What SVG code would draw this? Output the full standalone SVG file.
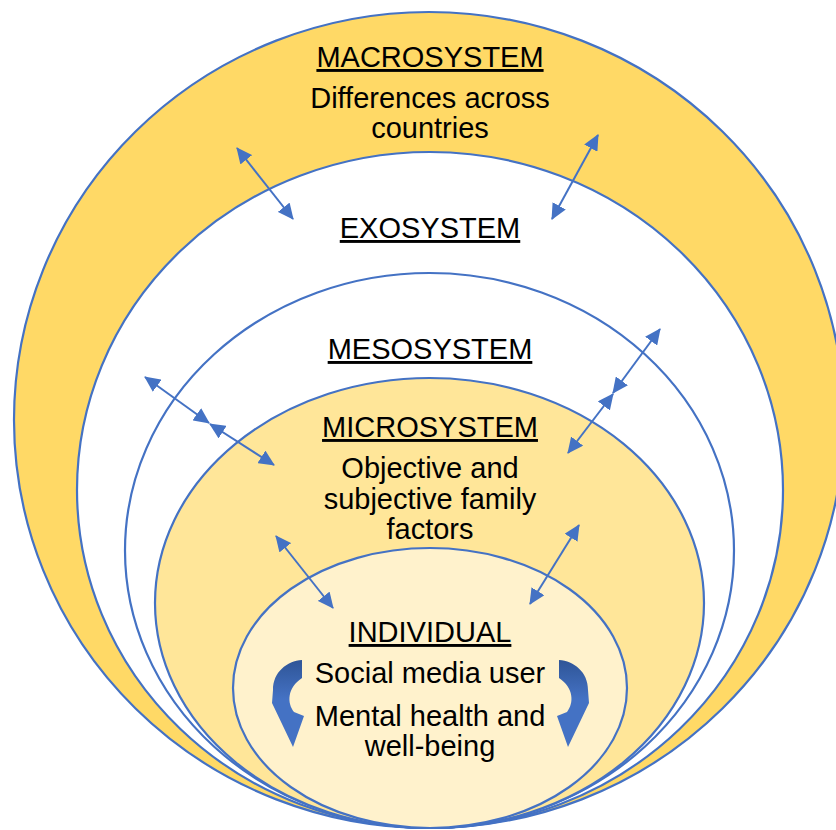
<svg xmlns="http://www.w3.org/2000/svg" width="836" height="830" viewBox="0 0 836 830">
  <style>
    .ring { stroke: #4472C4; stroke-width: 2.2; }
    .t { font-family: "Liberation Sans", Arial, sans-serif; font-size: 29px; fill: #000; text-anchor: middle; }
    .u { text-decoration: underline; }
    .conn { stroke: #4472C4; stroke-width: 2; fill: none; marker-start: url(#ah); marker-end: url(#ah); }
  </style>
  <defs>
    <marker id="ah" viewBox="0 0 16 15" markerWidth="16" markerHeight="15" refX="15" refY="7.5" orient="auto-start-reverse" markerUnits="userSpaceOnUse">
      <path d="M0,0 L16,7.5 L0,15 Z" fill="#4472C4"/>
    </marker>
    <linearGradient id="cg" x1="0" y1="660" x2="0" y2="747" gradientUnits="userSpaceOnUse">
      <stop offset="0" stop-color="#2F5597"/>
      <stop offset="0.45" stop-color="#4472C4"/>
      <stop offset="1" stop-color="#4472C4"/>
    </linearGradient>
  </defs>
  <rect width="836" height="830" fill="#FFFFFF"/>

  <g id="macrosystem">
    <ellipse class="ring" cx="429" cy="420" rx="415" ry="408" fill="#FFD966"/>
    <text class="t u" x="430" y="67">MACROSYSTEM</text>
    <text class="t" x="430" y="108">Differences across</text>
    <text class="t" x="430" y="138">countries</text>
  </g>
  <g id="exosystem">
    <ellipse class="ring" cx="430" cy="490" rx="353" ry="338" fill="#FFFFFF"/>
    <text class="t u" x="430" y="238">EXOSYSTEM</text>
  </g>
  <g id="mesosystem">
    <ellipse class="ring" cx="429.5" cy="550.5" rx="304.5" ry="277.5" fill="#FFFFFF"/>
    <text class="t u" x="430" y="359">MESOSYSTEM</text>
  </g>
  <g id="microsystem">
    <ellipse class="ring" cx="429.5" cy="603" rx="274.5" ry="225" fill="#FFE699"/>
    <text class="t u" x="430" y="437">MICROSYSTEM</text>
    <text class="t" x="430" y="478">Objective and</text>
    <text class="t" x="430" y="509">subjective family</text>
    <text class="t" x="430" y="539">factors</text>
  </g>
  <g id="individual">
    <ellipse class="ring" cx="430" cy="688" rx="197" ry="140" fill="#FFF2CC"/>
    <text class="t u" x="430" y="642">INDIVIDUAL</text>
    <text class="t" x="430" y="683">Social media user</text>
    <text class="t" x="430" y="726">Mental health and</text>
    <text class="t" x="430" y="756">well-being</text>
  </g>

  <g id="connectors">
    <line class="conn" x1="237" y1="148" x2="293" y2="219"/>
    <line class="conn" x1="598" y1="135" x2="552" y2="219"/>
    <line class="conn" x1="145" y1="377" x2="209" y2="423"/>
    <line class="conn" x1="210" y1="424" x2="274" y2="465"/>
    <line class="conn" x1="660" y1="329" x2="613" y2="393"/>
    <line class="conn" x1="613" y1="394" x2="568" y2="453"/>
    <line class="conn" x1="276" y1="536" x2="333" y2="608"/>
    <line class="conn" x1="579" y1="525" x2="530" y2="604"/>
    <path id="curve-left" d="M302,660 C287,661 273,672 273,690 L272,703 L293,747 L304,716 L294,712 C287,703 287,688 302,678 Z" fill="url(#cg)"/>
    <path id="curve-right" transform="translate(861,0) scale(-1,1)" d="M302,660 C287,661 273,672 273,690 L272,703 L293,747 L304,716 L294,712 C287,703 287,688 302,678 Z" fill="url(#cg)"/>
  </g>
</svg>
